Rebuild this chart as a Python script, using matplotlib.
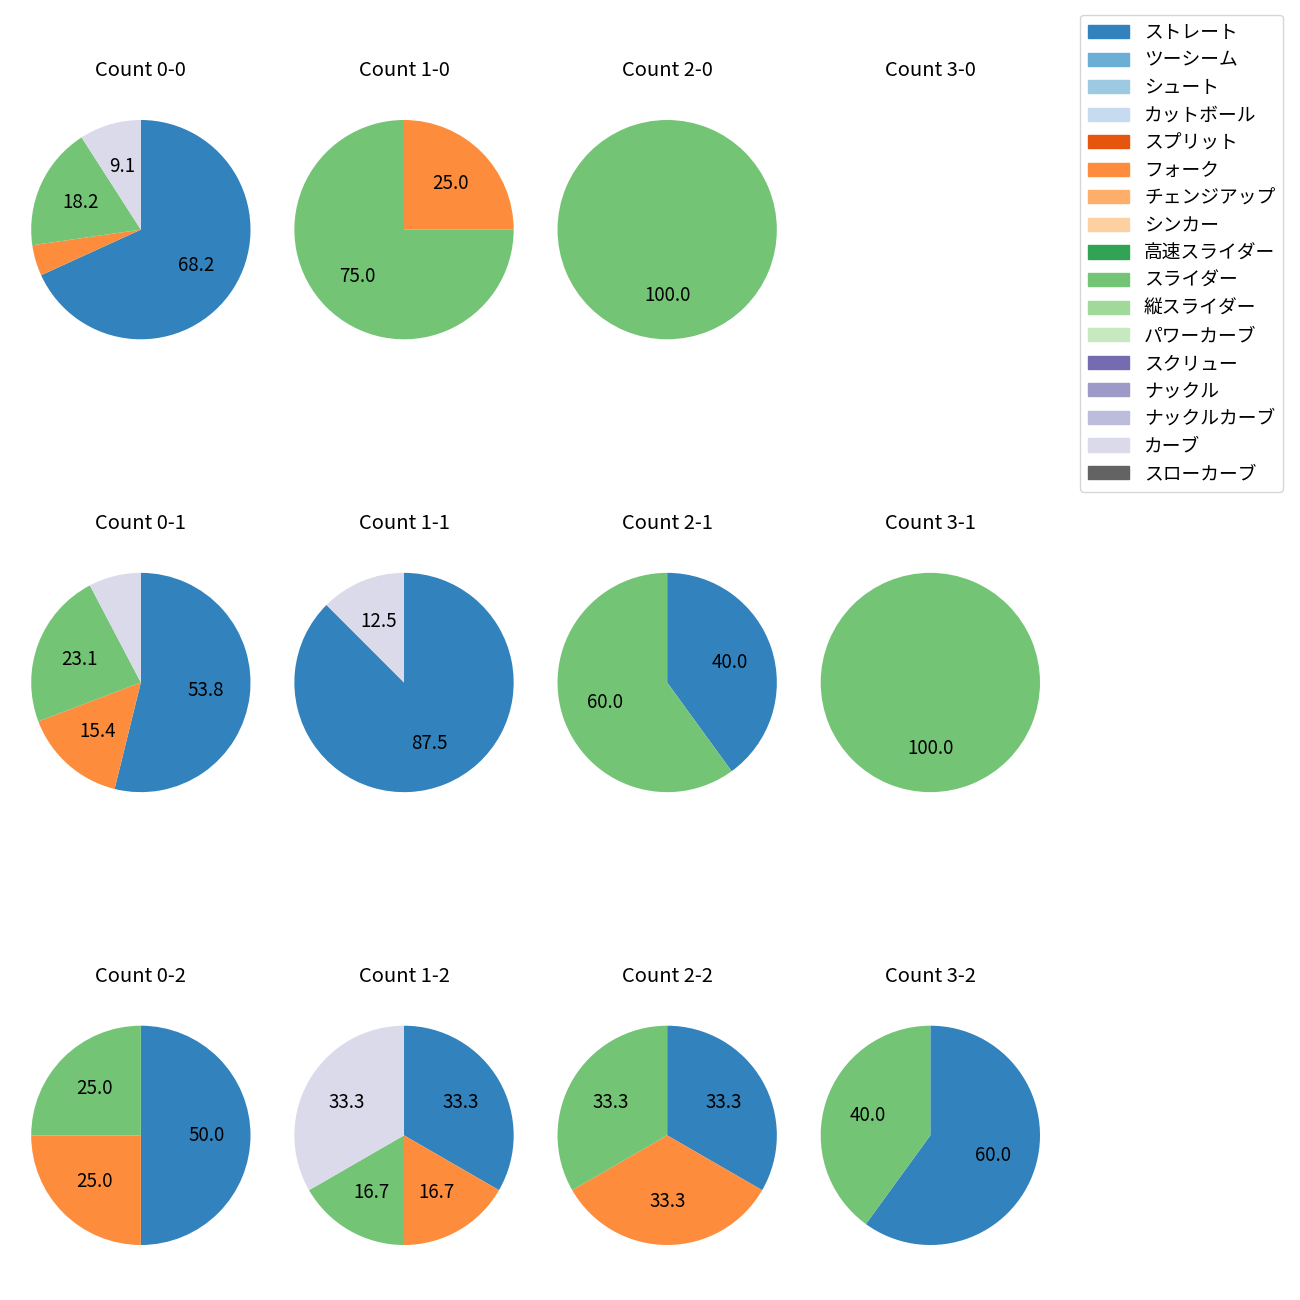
import matplotlib.pyplot as plt

plt.rcParams['font.family'] = ['Noto Sans CJK JP', 'DejaVu Sans']

pitch_names = ['ストレート', 'ツーシーム', 'シュート', 'カットボール', 'スプリット', 'フォーク',
               'チェンジアップ', 'シンカー', '高速スライダー', 'スライダー', '縦スライダー',
               'パワーカーブ', 'スクリュー', 'ナックル', 'ナックルカーブ', 'カーブ', 'スローカーブ']

# tab20c の順番
pitch_colors = ['#3182bd', '#6baed6', '#9ecae1', '#c6dbef', '#e6550d', '#fd8d3c',
                '#fdae6b', '#fdd0a2', '#31a354', '#74c476', '#a1d99b', '#c7e9c0',
                '#756bb1', '#9e9ac8', '#bcbddc', '#dadaeb', '#636363']

# 投球数（ストレート, フォーク, スライダー, カーブ）
count_titles = ['0-0', '1-0', '2-0', '3-0',
                '0-1', '1-1', '2-1', '3-1',
                '0-2', '1-2', '2-2', '3-2']
straight = [15, 0, 0, 0, 7, 7, 2, 0, 2, 2, 1, 3]
fork     = [1, 1, 0, 0, 2, 0, 0, 0, 1, 1, 1, 0]
slider   = [4, 3, 1, 0, 3, 0, 3, 1, 1, 1, 1, 2]
curve    = [2, 0, 0, 0, 1, 1, 0, 0, 0, 2, 0, 0]

used = ['ストレート', 'フォーク', 'スライダー', 'カーブ']

def autopct(p):
    return f'{p:.1f}' if p >= 8 else ''

fig, axes = plt.subplots(3, 4, figsize=(13, 13))
fig.subplots_adjust(left=0.024, right=0.8, top=0.935, bottom=0.015, wspace=0.2, hspace=0.56)

for i, ax in enumerate(axes.flat):
    vals = [straight[i], fork[i], slider[i], curve[i]]
    if sum(vals) == 0:
        ax.axis('off')
        ax.set_title('Count ' + count_titles[i], fontsize=14.5)
        continue
    sizes = [v for v in vals if v > 0]
    cols = [pitch_colors[pitch_names.index(n)] for n, v in zip(used, vals) if v > 0]
    ax.pie(sizes, colors=cols, startangle=90, counterclock=False,
           autopct=autopct, textprops={'fontsize': 13.5})
    ax.margins(0)
    ax.axis('equal')
    ax.set_title('Count ' + count_titles[i], fontsize=14.5)

handles = [plt.Rectangle((0, 0), 1, 1, color=c) for c in pitch_colors]
fig.legend(handles, pitch_names, loc='upper right', bbox_to_anchor=(0.994, 0.996),
           fontsize=13.5, labelspacing=0.35, handlelength=2.2)

plt.savefig('out.png', dpi=100)
